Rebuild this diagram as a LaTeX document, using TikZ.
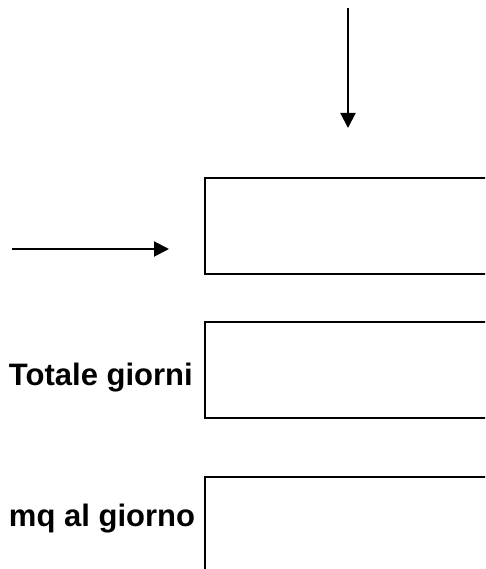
\documentclass[tikz,border=0pt]{standalone}
\usepackage{fontspec}
\setmainfont{Liberation Sans}
\usetikzlibrary{arrows.meta}

\tikzset{inbox/.style={draw,rectangle,minimum width=300pt,minimum height=96pt,anchor=north west,inner sep=0pt}}
\tikzset{boxlabel/.style={anchor=base west,inner sep=0pt,font=\fontsize{31}{36}\selectfont\bfseries}}

\begin{document}
\begin{tikzpicture}[x=1pt,y=-1pt,line width=2pt]
    \useasboundingbox (0,0) rectangle (485,569);
    \clip (0,0) rectangle (485,569);
    \node[inbox] (box1) at (204,177) {};
    \node[inbox] (box2) at (204,321) {};
    \node[inbox] (box3) at (204,476) {};
    \node[boxlabel] (tot) at (8,385) {Totale giorni};
    \node[boxlabel] (mq) at (8,526) {mq al giorno};
    \coordinate (top) at (348,8);
    \coordinate (topend) at (348,128);
    \coordinate (left) at (12,249);
    \coordinate (leftend) at (169,249);
    \draw[-{Triangle[length=15pt,width=15pt]}] (top) -- (topend);
    \draw[-{Triangle[length=15pt,width=15pt]}] (left) -- (leftend);
\end{tikzpicture}
\end{document}
